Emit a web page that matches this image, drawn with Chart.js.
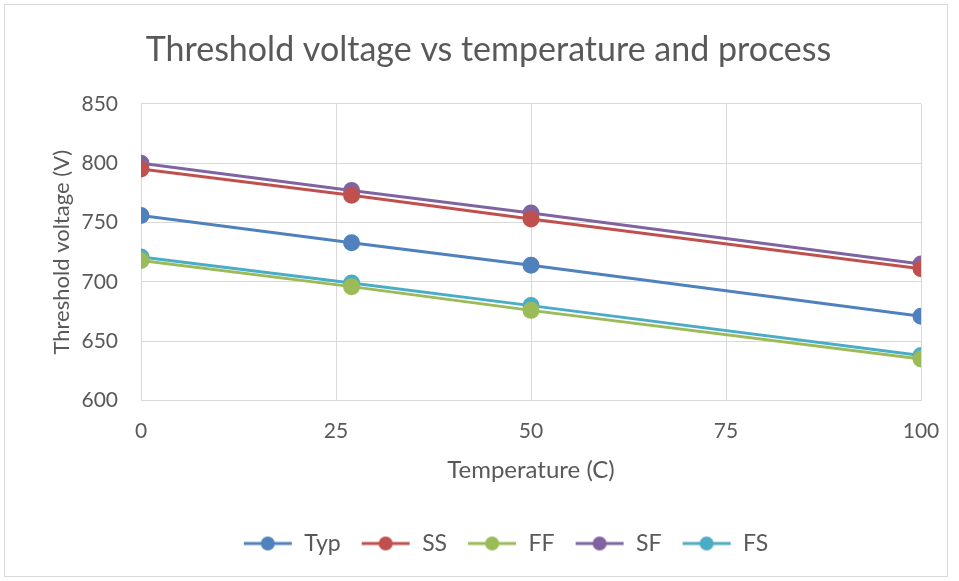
<!DOCTYPE html>
<html>
<head>
<meta charset="utf-8">
<script src="https://cdn.jsdelivr.net/npm/chart.js@4"></script>
<style>
  html, body { margin: 0; padding: 0; background: #fff; }
  #wrap { width: 959px; height: 581px; }
</style>
</head>
<body>
<div id="wrap"><canvas id="vtChart" width="959" height="581"></canvas></div>
<script>
// Threshold voltage chart

// Data
const temps = [0, 27, 50, 100];
const seriesNames = ['Typ', 'SS', 'FF', 'SF', 'FS'];
const typVals = [756, 733, 714, 671];
const ssVals = [795, 773, 753, 711];
const ffVals = [718, 696, 676, 635];
const sfVals = [800, 777, 758, 715];
const fsVals = [721, 699, 680, 638];
const yTicks = [600, 650, 700, 750, 800, 850];
const xTicks = [0, 25, 50, 75, 100];

const seriesColors = ['#4F81BD', '#C0504D', '#9BBB59', '#8064A2', '#4BACC6'];
const seriesVals = [typVals, ssVals, ffVals, sfVals, fsVals];

const textColor = '#595959';
const gridColor = '#D9D9D9';
const fontFam = 'Lato, "Open Sans", sans-serif';

// Legend marker: line with a dot in the middle
function legendMarker(color) {
  const c = document.createElement('canvas');
  c.width = 50; c.height = 16;
  const g = c.getContext('2d');
  g.strokeStyle = color;
  g.lineWidth = 3;
  g.beginPath(); g.moveTo(1, 8); g.lineTo(49, 8); g.stroke();
  g.fillStyle = color;
  g.beginPath(); g.arc(25, 8, 7, 0, Math.PI * 2); g.fill();
  return c;
}

const datasets = seriesNames.map((name, i) => ({
  label: name,
  data: temps.map((t, j) => ({ x: t, y: seriesVals[i][j] })),
  borderColor: seriesColors[i],
  backgroundColor: seriesColors[i],
  pointBackgroundColor: seriesColors[i],
  pointBorderColor: seriesColors[i],
  borderWidth: 3,
  pointRadius: 7,
  pointHoverRadius: 7,
  tension: 0
}));

// Chart frame + nudge title/legend to the right like the original
const framePlugin = {
  id: 'frame',
  afterLayout(chart) {
    chart.titleBlock.left += 28;
    chart.titleBlock.right += 28;
    chart.legend.left += 45;
    chart.legend.right += 45;
  },
  beforeDraw(chart) {
    const c = chart.ctx;
    c.save();
    c.fillStyle = '#fff';
    c.fillRect(0, 0, chart.width, chart.height);
    c.strokeStyle = '#D9D9D9';
    c.lineWidth = 1;
    c.strokeRect(4.5, 4.5, 943, 572);
    c.restore();
  }
};

new Chart(document.getElementById('vtChart'), {
  type: 'line',
  data: { datasets: datasets },
  plugins: [framePlugin],
  options: {
    responsive: false,
    animation: false,
    layout: { padding: { left: 0, right: 38, top: 30, bottom: 16 } },
    plugins: {
      title: {
        display: true,
        text: 'Threshold voltage vs temperature and process',
        color: textColor,
        font: { family: fontFam, size: 34, weight: 'normal' },
        padding: { top: 0, bottom: 33 }
      },
      legend: {
        position: 'bottom',
        labels: {
          color: textColor,
          font: { family: fontFam, size: 23 },
          usePointStyle: true,
          pointStyleWidth: 50,
          boxHeight: 16,
          padding: 20,
          generateLabels(chart) {
            return chart.data.datasets.map((ds, i) => ({
              text: ds.label,
              pointStyle: legendMarker(seriesColors[i]),
              fontColor: textColor,
              strokeStyle: seriesColors[i],
              fillStyle: seriesColors[i],
              lineWidth: 0,
              hidden: false,
              datasetIndex: i
            }));
          }
        }
      },
      tooltip: { enabled: false }
    },
    scales: {
      x: {
        type: 'linear',
        min: 0,
        max: 100,
        afterBuildTicks(scale) { scale.ticks = xTicks.map(v => ({ value: v })); },
        grid: { color: gridColor, drawTicks: false },
        border: { color: gridColor },
        ticks: { color: textColor, font: { family: fontFam, size: 21 }, padding: 18 },
        title: {
          display: true,
          text: 'Temperature (C)',
          color: textColor,
          font: { family: fontFam, size: 24 },
          padding: { top: 0, bottom: 27 }
        },
        afterFit(scale) { scale.height = 111.4; }
      },
      y: {
        min: 600,
        max: 850,
        afterBuildTicks(scale) { scale.ticks = yTicks.map(v => ({ value: v })); },
        grid: { color: gridColor, drawTicks: false },
        border: { display: false },
        ticks: { color: textColor, font: { family: fontFam, size: 21 }, padding: 23 },
        title: {
          display: true,
          text: 'Threshold voltage (V)',
          color: textColor,
          font: { family: fontFam, size: 22 },
          padding: { top: 49, bottom: 0 }
        },
        afterFit(scale) { scale.width = 141; }
      }
    }
  }
});
</script>
</body>
</html>
